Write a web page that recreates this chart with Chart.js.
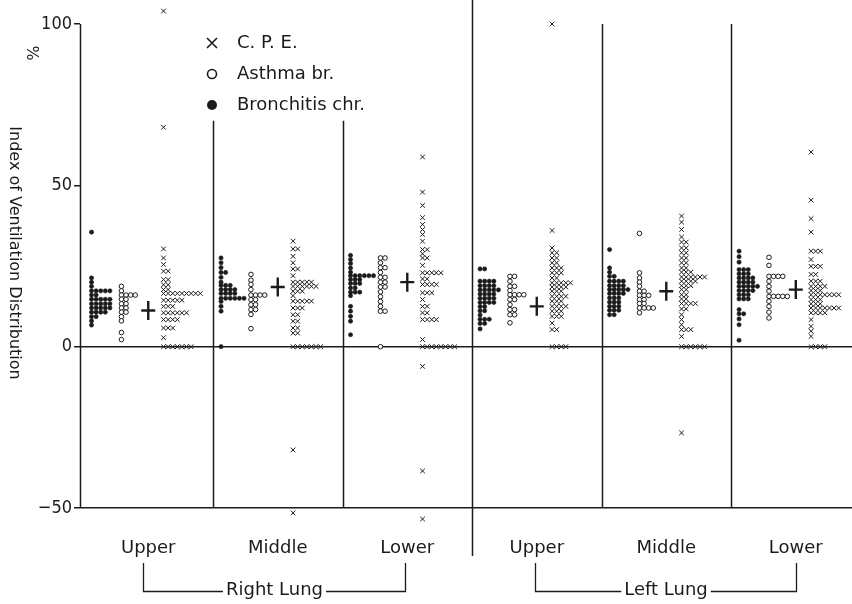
<!DOCTYPE html>
<html>
<head>
<meta charset="utf-8">
<script src="https://cdn.jsdelivr.net/npm/chart.js@4.4.1/dist/chart.umd.min.js"></script>
<style>
  html, body { margin: 0; padding: 0; background: #fff; }
  #wrap { width: 852px; height: 604px; }
</style>
</head>
<body>
<div id="wrap"><canvas id="chart" width="852" height="604"></canvas></div>
<script>
// categories
const groups = ["Upper", "Middle", "Lower", "Upper", "Middle", "Lower"];
const lungs = ["Right Lung", "Left Lung"];
const yTicks = [-50, 0, 50, 100];

// one array per lung region (%)
const bronchitis = [
  [35.5, 21.3, 20, 18.7, 17.3, 17.3, 17.3, 17.3, 17.3, 16, 16, 14.7, 14.7, 14.7, 14.7, 14.7,
   13.3, 13.3, 13.3, 13.3, 13.3, 12, 12, 12, 12, 12, 10.7, 10.7, 10.7, 10.7, 9.3, 9.3, 8, 6.7],
  [27.5, 26, 24.5, 23, 23, 21.5, 20, 19, 19, 19, 17.7, 17.7, 17.7, 17.7, 16.5, 16.5, 16.5, 16.5,
   15, 15, 15, 15, 15, 15, 14, 12.5, 11, 0],
  [28.3, 27, 25.8, 24.4, 23.1, 22, 22, 22, 22, 22, 22, 20.8, 20.8, 20.8, 19.6, 19.6, 19.6,
   18.2, 18.2, 16.9, 16.9, 16.9, 15.8, 12.5, 11, 9.4, 7.9, 3.7],
  [24.1, 24.1, 20.3, 20.3, 20.3, 20.3, 18.9, 18.9, 18.9, 18.9, 17.6, 17.6, 17.6, 17.6, 17.6,
   16.3, 16.3, 16.3, 16.3, 15, 15, 15, 15, 13.7, 13.7, 13.7, 13.7, 12.4, 12.4, 11.1, 11.1,
   9.8, 8.5, 8.5, 8.5, 7.2, 7.2, 5.5],
  [30.1, 24.4, 23.1, 21.8, 21.8, 20.3, 20.3, 20.3, 20.3, 18.9, 18.9, 18.9, 18.9, 17.7, 17.7,
   17.7, 17.7, 17.7, 16.5, 16.5, 16.5, 16.5, 15.1, 15.1, 15.1, 13.8, 13.8, 13.8, 12.5, 12.5,
   12.5, 11.3, 11.3, 11.3, 9.9, 9.9],
  [29.6, 27.9, 26.2, 23.9, 23.9, 23.9, 22.6, 22.6, 22.6, 21.3, 21.3, 21.3, 21.3, 20, 20, 20, 20,
   18.7, 18.7, 18.7, 18.7, 18.7, 17.4, 17.4, 17.4, 17.4, 16.1, 16.1, 16.1, 14.8, 14.8, 14.8,
   11.5, 10.2, 10.2, 8.6, 6.8, 2]
];
const asthma = [
  [18.7, 17.3, 16, 16, 16, 16, 14.7, 14.7, 13.3, 13.3, 12, 12, 10.7, 10.7, 9.3, 8, 4.4, 2.2],
  [22.4, 20.6, 19.3, 17.7, 16, 16, 16, 16, 14.6, 14.6, 13, 13, 11.5, 11.5, 10, 5.6],
  [27.5, 27.5, 26, 24.5, 24.5, 23, 21.5, 21.5, 20, 20, 18.5, 18.5, 17, 15.5, 14, 12.5, 11, 11, 0],
  [21.8, 21.8, 20.3, 18.7, 18.7, 17.4, 16.1, 16.1, 16.1, 16.1, 14.6, 14.6, 13, 11.5, 11.5,
   9.9, 9.9, 7.4],
  [35.1, 22.9, 21.3, 20, 18.7, 17.2, 17.2, 15.9, 15.9, 15.9, 14.6, 14.6, 13.4, 13.4,
   12, 12, 12, 12, 10.5],
  [27.7, 25.2, 21.8, 21.8, 21.8, 21.8, 20.3, 18.7, 17.2, 15.6, 15.6, 15.6, 15.6, 15.6,
   14.1, 12.5, 10.7, 8.9]
];
const cpe = [
  [104, 68, 30.3, 27.5, 25.5, 23.4, 23.4, 20.8, 20.8, 19.2, 19.2, 17.7, 17.7,
   16.5, 16.5, 16.5, 16.5, 16.5, 16.5, 16.5, 16.5, 16.5, 14.4, 14.4, 14.4, 14.4, 14.4,
   12.5, 12.5, 12.5, 10.5, 10.5, 10.5, 10.5, 10.5, 10.5, 8.4, 8.4, 8.4, 8.4,
   5.8, 5.8, 5.8, 2.8, 0, 0, 0, 0, 0, 0, 0],
  [32.7, 30.3, 30.3, 28, 26, 24.1, 24.1, 22, 20, 20, 20, 20, 20, 18.7, 18.7, 18.7, 18.7, 18.7,
   18.7, 17.2, 17.2, 17.2, 15.8, 14.1, 14.1, 14.1, 14.1, 14.1, 12, 12, 12, 9.9, 9.9,
   7.9, 7.9, 5.8, 5.8, 4.2, 4.2, 0, 0, 0, 0, 0, 0, 0, -32, -51.5],
  [58.8, 47.9, 43.8, 40, 37.9, 36.3, 34.8, 32.7, 30.1, 30.1, 28.8, 27.5, 27.5, 25.2,
   22.9, 22.9, 22.9, 22.9, 22.9, 21, 21, 19.3, 19.3, 19.3, 19.3, 16.7, 16.7, 16.7, 14.6,
   12.5, 12.5, 10.5, 10.5, 8.4, 8.4, 8.4, 8.4, 2.2, 0, 0, 0, 0, 0, 0, 0, 0, -6.1, -38.5, -53.4],
  [100, 36, 30.6, 29.1, 29.1, 27.5, 27.5, 26, 26, 24.4, 24.4, 24.4, 22.9, 22.9, 22.9,
   21.3, 21.3, 19.8, 19.8, 19.8, 19.8, 19.8, 18.5, 18.5, 18.5, 18.5, 17.2, 17.2, 17.2,
   15.6, 15.6, 15.6, 15.6, 14.1, 14.1, 14.1, 12.5, 12.5, 12.5, 12.5, 11, 11, 11,
   9.4, 9.4, 9.4, 7.3, 5.3, 5.3, 0, 0, 0, 0],
  [40.5, 38.6, 36.3, 34, 32.4, 32.4, 30.6, 30.6, 29.1, 29.1, 27.5, 27.5, 26, 26, 24.4, 24.4,
   23.1, 23.1, 23.1, 21.6, 21.6, 21.6, 21.6, 21.6, 21.6, 20.3, 20.3, 20.3, 20.3,
   18.9, 18.9, 18.9, 17.7, 17.7, 16.1, 16.1, 14.8, 14.8, 13.4, 13.4, 13.4, 13.4,
   11.7, 11.7, 9.9, 8.4, 6.8, 5.3, 5.3, 5.3, 3.2, 0, 0, 0, 0, 0, 0, -26.7],
  [60.3, 45.4, 39.7, 35.5, 29.6, 29.6, 29.6, 27, 24.9, 24.9, 24.9, 22.4, 22.4, 20.3, 20.3, 20.3,
   18.7, 18.7, 18.7, 18.7, 17.4, 17.4, 17.4, 16.1, 16.1, 16.1, 16.1, 16.1, 16.1, 16.1,
   14.6, 14.6, 14.6, 13.3, 13.3, 13.3, 12, 12, 12, 12, 12, 12, 12, 10.5, 10.5, 10.5, 10.5,
   8.4, 6.3, 4.8, 3.2, 0, 0, 0, 0]
];
// group means (the "+" marks)
const means = [11.2, 18.5, 20, 12.5, 17.2, 17.7];

const INK = "#1b1b1b";
const FONT = '"DejaVu Sans", sans-serif';
const TICKFONT = '"DejaVu Sans Condensed", "DejaVu Sans", sans-serif';

// column placement inside each region, in region widths
const OFF_BRON = 0.062, OFF_ASTH = 0.293, OFF_MEAN = 0.5, OFF_CPE = 0.618;
const STEP = 0.0355; // sideways step between equal readings

function stack(arrs, off) {
  const pts = [];
  arrs.forEach((vals, g) => {
    const seen = {};
    vals.forEach(v => {
      const key = v.toFixed(1);
      const k = seen[key] || 0;
      seen[key] = k + 1;
      pts.push({ x: g + off + k * STEP, y: v });
    });
  });
  return pts;
}
const meanPts = means.map((m, g) => ({ x: g + OFF_MEAN, y: m }));

const extras = {
  id: "extras",
  beforeDatasetsDraw(chart) {
    const { ctx, chartArea, scales: { x, y } } = chart;
    ctx.save();
    ctx.strokeStyle = INK;
    ctx.lineWidth = 1.5;
    // left axis line, 100 down to -50 only
    const ax = Math.round(chartArea.left) + 0.5;
    ctx.beginPath();
    ctx.moveTo(ax, y.getPixelForValue(100));
    ctx.lineTo(ax, y.getPixelForValue(-50));
    ctx.stroke();
    const seps = [[1, y.getPixelForValue(70), y.getPixelForValue(-50)],
                  [2, y.getPixelForValue(70), y.getPixelForValue(-50)],
                  [3, 0, 556],
                  [4, y.getPixelForValue(100), y.getPixelForValue(-50)],
                  [5, y.getPixelForValue(100), y.getPixelForValue(-50)]];
    seps.forEach(([v, t, b]) => {
      const px = Math.round(x.getPixelForValue(v)) + 0.5;
      ctx.beginPath(); ctx.moveTo(px, t); ctx.lineTo(px, b); ctx.stroke();
    });
    ctx.restore();
  },
  afterDraw(chart) {
    const { ctx, scales: { x } } = chart;
    ctx.save();
    ctx.fillStyle = INK;
    ctx.strokeStyle = INK;

    // axis title, reading downwards
    ctx.save();
    ctx.translate(14, 253);
    ctx.rotate(Math.PI / 2);
    ctx.font = "16px " + FONT;
    ctx.textAlign = "center";
    ctx.textBaseline = "middle";
    ctx.fillText("Index of Ventilation Distribution", 0, 0);
    ctx.restore();

    ctx.save();
    ctx.translate(31, 53);
    ctx.rotate(Math.PI / 2);
    ctx.font = "16px " + FONT;
    ctx.textAlign = "center";
    ctx.textBaseline = "middle";
    ctx.fillText("%", 0, 0);
    ctx.restore();

    // legend
    const lx = 212, tx = 237;
    ctx.font = "18px " + FONT;
    ctx.textAlign = "left";
    ctx.textBaseline = "middle";
    ctx.lineWidth = 1.6;
    ctx.beginPath();
    ctx.moveTo(lx - 5, 38); ctx.lineTo(lx + 5, 48);
    ctx.moveTo(lx + 5, 38); ctx.lineTo(lx - 5, 48);
    ctx.stroke();
    ctx.fillText("C. P. E.", tx, 43);
    ctx.beginPath(); ctx.arc(lx, 74, 4.5, 0, Math.PI * 2); ctx.stroke();
    ctx.fillText("Asthma br.", tx, 74);
    ctx.beginPath(); ctx.arc(lx, 105, 5, 0, Math.PI * 2); ctx.fill();
    ctx.fillText("Bronchitis chr.", tx, 105);

    // lung brackets
    ctx.font = "18px " + FONT;
    ctx.textAlign = "center";
    ctx.lineWidth = 1.3;
    const spans = [[0.46, 2.48], [3.49, 5.5]];
    spans.forEach(([a, b], i) => {
      const xa = Math.round(x.getPixelForValue(a)) + 0.5;
      const xb = Math.round(x.getPixelForValue(b)) + 0.5;
      const xm = (xa + xb) / 2;
      const hy = 591.5;
      const half = ctx.measureText(lungs[i]).width / 2 + 3;
      ctx.beginPath();
      ctx.moveTo(xa, 563); ctx.lineTo(xa, hy); ctx.lineTo(xm - half, hy);
      ctx.moveTo(xm + half, hy); ctx.lineTo(xb, hy); ctx.lineTo(xb, 563);
      ctx.stroke();
      ctx.fillText(lungs[i], xm, hy - 1);
    });
    ctx.restore();
  }
};

new Chart(document.getElementById("chart"), {
  type: "scatter",
  data: {
    datasets: [
      {
        label: "Bronchitis chr.",
        data: stack(bronchitis, OFF_BRON),
        pointStyle: "circle",
        pointRadius: 2.1,
        backgroundColor: INK,
        borderColor: INK,
        borderWidth: 0.6
      },
      {
        label: "Asthma br.",
        data: stack(asthma, OFF_ASTH),
        pointStyle: "circle",
        pointRadius: 2.3,
        backgroundColor: "#fff",
        borderColor: INK,
        borderWidth: 1
      },
      {
        label: "C.P.E.",
        data: stack(cpe, OFF_CPE),
        pointStyle: "crossRot",
        pointRadius: 3.3,
        borderColor: INK,
        borderWidth: 1
      },
      {
        label: "mean v",
        data: meanPts,
        pointStyle: "line",
        rotation: 90,
        pointRadius: 9.5,
        borderColor: INK,
        borderWidth: 2.4
      },
      {
        label: "mean h",
        data: meanPts,
        pointStyle: "line",
        pointRadius: 7,
        borderColor: INK,
        borderWidth: 2.4
      }
    ]
  },
  options: {
    responsive: false,
    animation: false,
    events: [],
    layout: { autoPadding: false, padding: { top: 4.64, left: 0, right: 0, bottom: 0 } },
    plugins: {
      legend: { display: false },
      tooltip: { enabled: false }
    },
    scales: {
      x: {
        type: "linear",
        min: -0.027,
        max: 5.934,
        afterBuildTicks: s => { s.ticks = groups.map((g, i) => ({ value: i + 0.5 })); },
        afterFit: s => { s.height = 76.6; s.paddingLeft = 0; s.paddingRight = 0; },
        ticks: {
          callback: (v, i) => groups[i],
          font: { family: FONT, size: 18 },
          color: INK,
          padding: 10,
          maxRotation: 0,
          autoSkip: false
        },
        grid: { display: false, drawTicks: false },
        border: { display: false }
      },
      y: {
        min: -56,
        max: 106,
        afterBuildTicks: s => { s.ticks = yTicks.map(v => ({ value: v })); },
        afterFit: s => { s.width = 80; s.paddingTop = 0; s.paddingBottom = 0; },
        ticks: {
          callback: v => (v < 0 ? "\u2212" + Math.abs(v) : String(v)),
          font: { family: TICKFONT, size: 18 },
          color: INK,
          padding: 2
        },
        grid: {
          color: c => (c.tick && (c.tick.value === 0 || c.tick.value === -50) ? INK : "rgba(0,0,0,0)"),
          lineWidth: 1.5,
          tickColor: INK,
          tickLength: 6
        },
        border: { display: false }
      }
    }
  },
  plugins: [extras]
});
</script>
</body>
</html>
